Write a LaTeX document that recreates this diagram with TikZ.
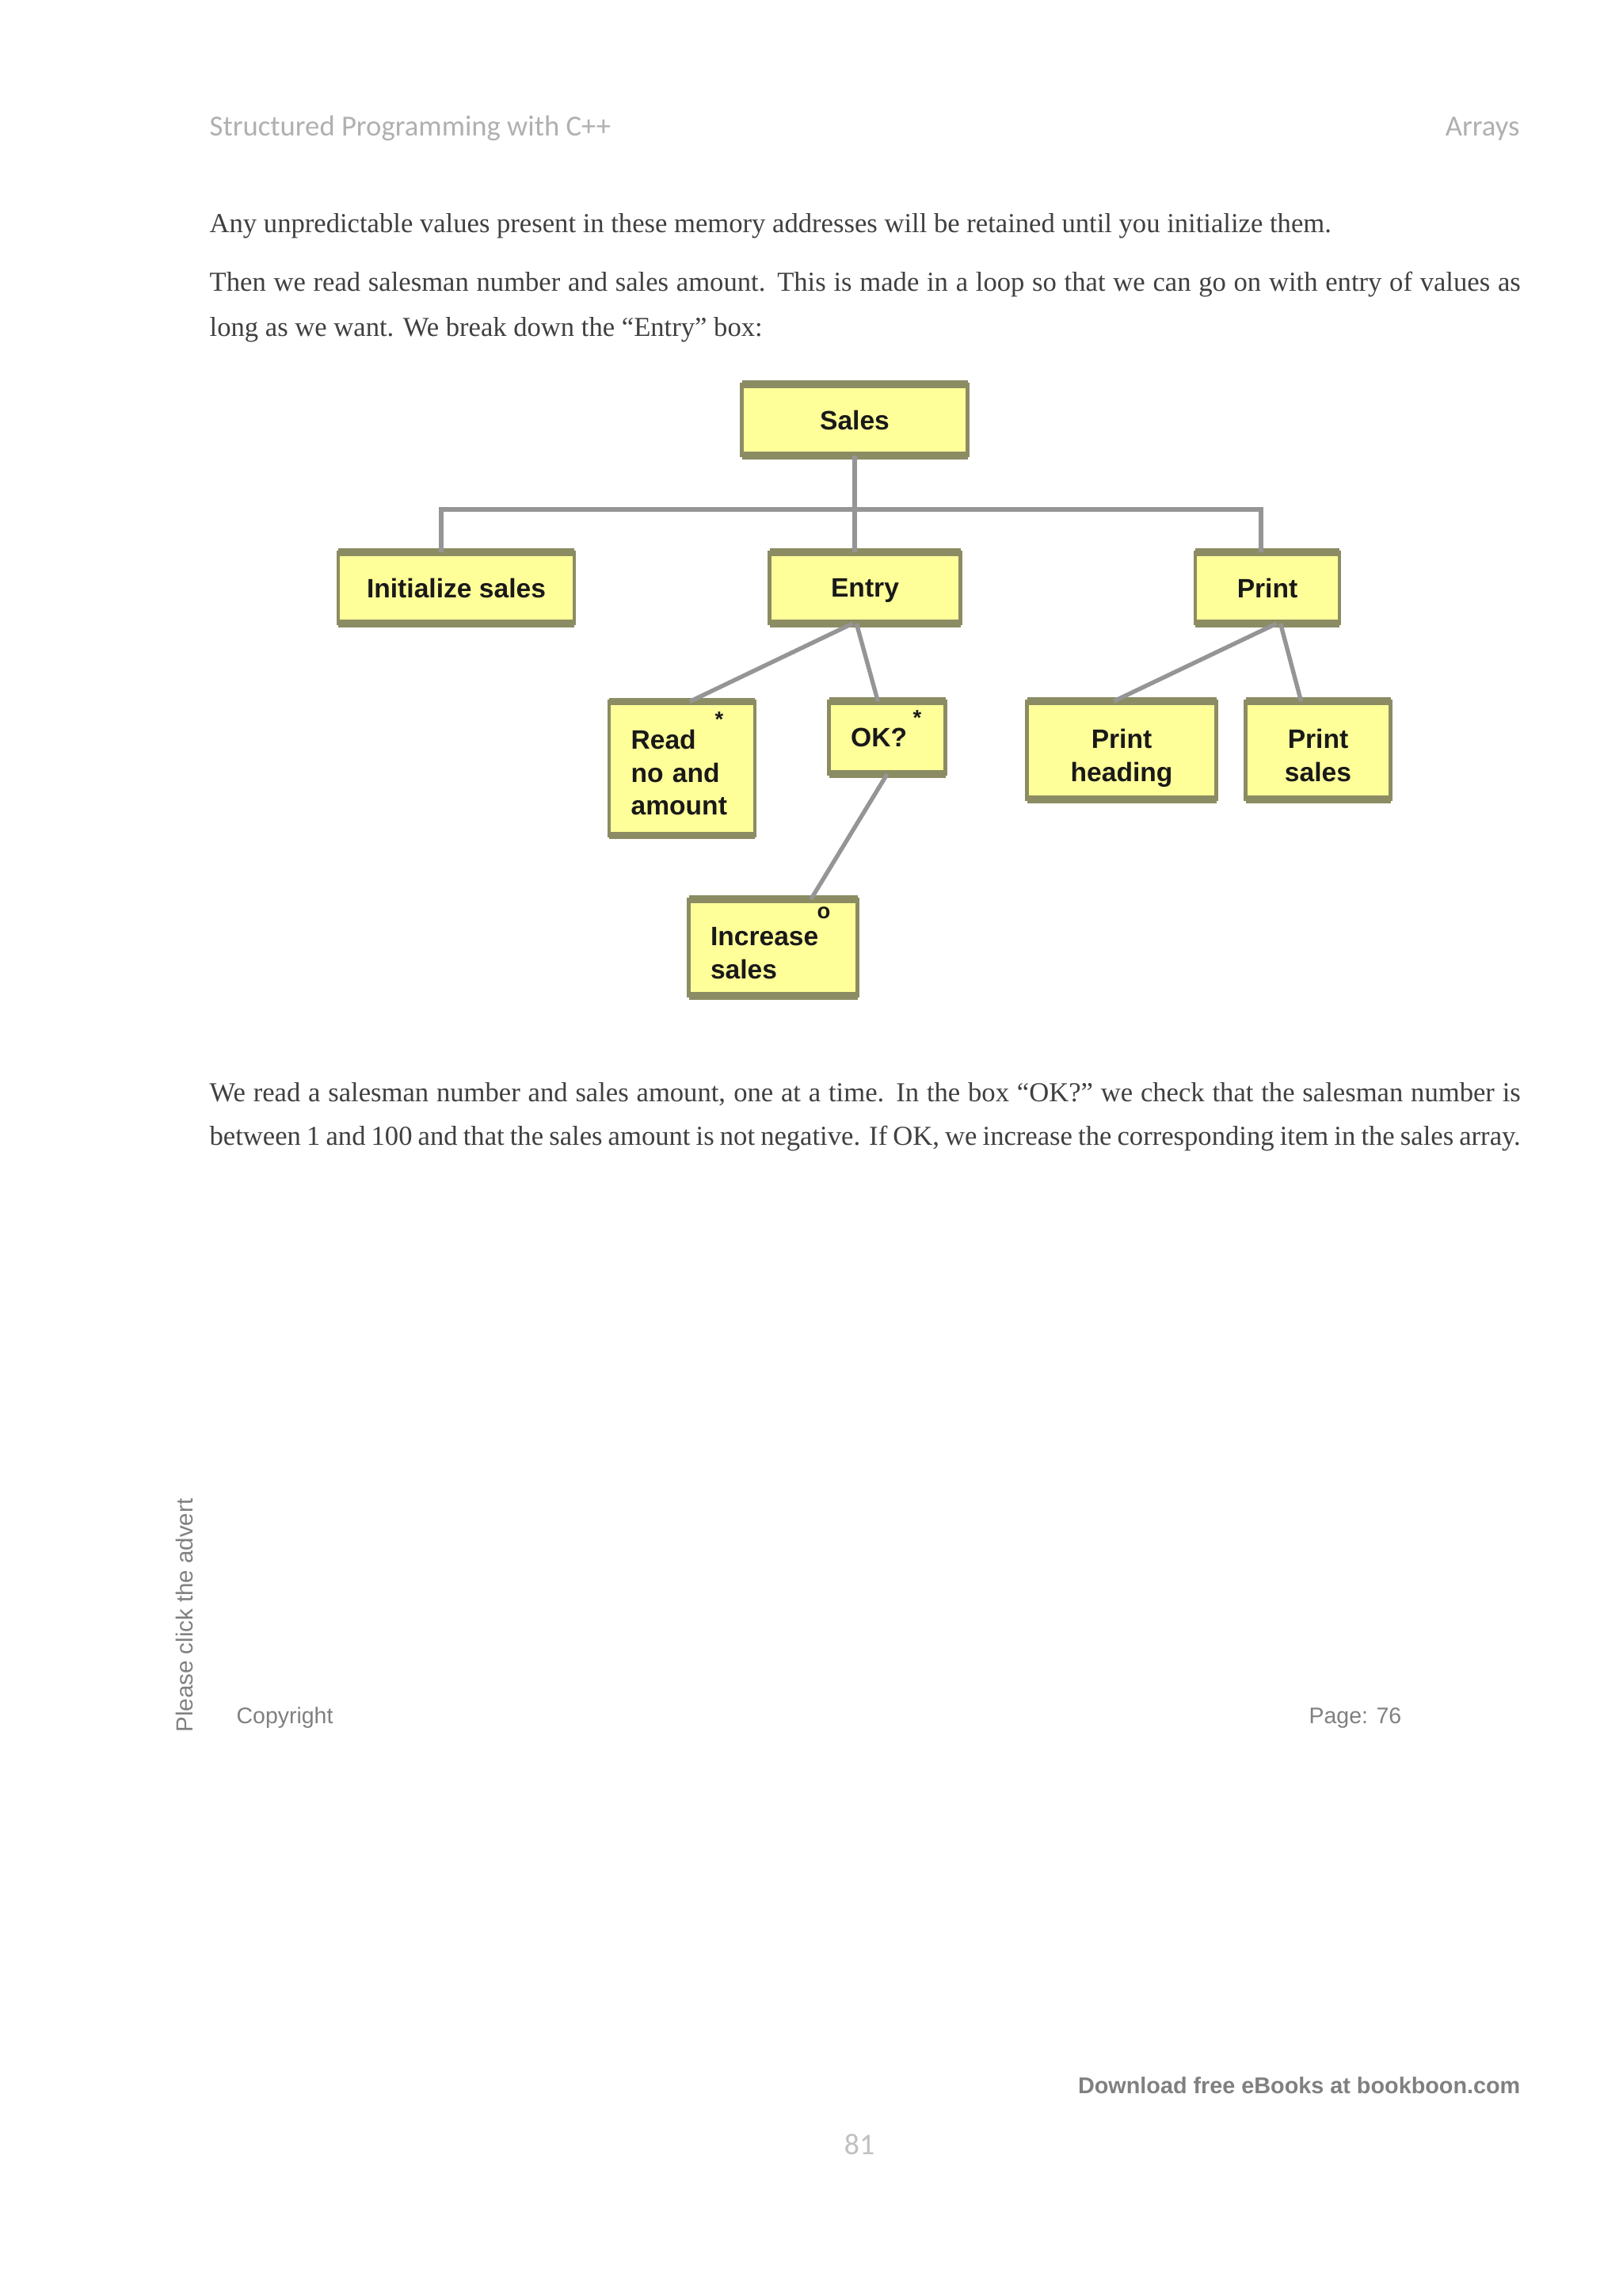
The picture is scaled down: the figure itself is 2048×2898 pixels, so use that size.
\documentclass[tikz,border=0pt]{standalone}
\usepackage{fontspec}
\setmainfont{Liberation Serif}
\setsansfont{Liberation Sans}
\newfontfamily\calibri{Carlito}

\definecolor{boxfill}{HTML}{FFFF99}
\definecolor{boxrim}{HTML}{8C8C64}
\definecolor{linkgray}{HTML}{959595}
\definecolor{bodytext}{HTML}{404040}
\definecolor{headgray}{HTML}{B0B0B0}
\definecolor{footgray}{HTML}{808080}

\tikzset{
  jbox/.style={draw=boxrim, fill=boxfill, line width=0.5mm, outer sep=0pt, inner sep=0pt,
    text depth=0pt, text=black!90, font=\sffamily\bfseries\fontsize{9.8}{12.2}\selectfont},
  bsize/.style 2 args={minimum width=#1*0.10254mm, minimum height=#2*0.10254mm},
  rim/.style={draw=boxrim, line width=1mm},
  link/.style={draw=linkgray, line width=0.55mm},
  boxmark/.style={inner sep=0pt, text=black!90, font=\sffamily\bfseries\fontsize{8}{9}\selectfont},
  body/.style={anchor=base west, inner sep=0pt, text=bodytext, font=\fontsize{10.1}{16}\selectfont},
  foot/.style={inner sep=0pt, text=footgray, font=\sffamily\fontsize{8.3}{10}\selectfont},
}

\begin{document}
\begin{tikzpicture}[x=0.10254mm,y=-0.10254mm]
\useasboundingbox (0,0) rectangle (2048,2898);
\fill[white] (0,0) rectangle (2048,2898);

% running head
\node[anchor=base west, inner sep=0pt, text=headgray, font=\calibri\fontsize{10.7}{12}\selectfont] (runhead) at (264,171) {Structured Programming with C++};
\node[anchor=base east, inner sep=0pt, text=headgray, font=\calibri\fontsize{10.7}{12}\selectfont] (chapter) at (1919,171) {Arrays};

% text above the chart
\node[body] (para1) at (264,293) {Any unpredictable values present in these memory addresses will be retained until you initialize them.};
\node[body] (para2a) at (264,367) {\makebox[169.7mm][s]{Then we read salesman number and sales amount. This is made in a loop so that we can go on with entry of values as}};
\node[body] (para2b) at (264,424) {long as we want. We break down the “Entry” box:};

% the chart
\node[jbox, bsize={285}{90}] (sales) at (1079,530) {Sales};
\node[jbox, bsize={298}{90}] (init) at (576,742) {Initialize sales};
\node[jbox, bsize={241}{90}] (entry) at (1092,742) {Entry};
\node[jbox, bsize={182}{90}] (print) at (1600,742) {Print};
\node[jbox, bsize={184}{169}, text width=13.2mm, align=left, text height=10pt, text depth=24.4pt] (read) at (861,970) {Read\\no and\\amount};
\node[jbox, bsize={147}{92}, text width=9.4mm, align=left] (okq) at (1120,931) {OK?};
\node[jbox, bsize={239}{124}, align=center, text height=23.2pt] (head) at (1416,947) {Print\\heading};
\node[jbox, bsize={183}{124}, align=center, text height=23.2pt] (psales) at (1664,947) {Print\\sales};
\node[jbox, bsize={213}{122}, text width=16.2mm, align=left, text height=10.9pt, text depth=12.2pt] (incr) at (976,1196) {Increase\\sales};

\foreach \b in {sales,init,entry,print,read,okq,head,psales,incr}
  \draw[rim] (\b.north west) -- (\b.north east) (\b.south west) -- (\b.south east);

\node[boxmark, anchor=north] (readstar) at (908,898) {*};
\node[boxmark, anchor=north] (okstar) at (1158,896) {*};
\node[boxmark] (incro) at (1040,1152) {o};

\coordinate (barl) at (557,643);
\coordinate (barr) at (1592,643);
\draw[link] (sales.south) -- (sales.south |- entry.north);
\draw[link] (barl |- init.north) -- (barl) -- (barr) -- (barr |- print.north);
\draw[link] ([xshift=-1.6mm]entry.south) -- ([xshift=1mm]read.north);
\draw[link] ([xshift=-1.1mm]entry.south) -- ([xshift=-1.2mm]okq.north);
\draw[link] (okq.south) -- ([xshift=4.9mm]incr.north);
\draw[link] ([xshift=1.2mm]print.south) -- ([xshift=-1mm]head.north);
\draw[link] ([xshift=1.7mm]print.south) -- ([xshift=-2.2mm]psales.north);

% text below the chart
\node[body] (para3a) at (264,1390) {\makebox[169.7mm][s]{We read a salesman number and sales amount, one at a time. In the box “OK?” we check that the salesman number is}};
\node[body] (para3b) at (264,1445) {\makebox[169.7mm][s]{between 1 and 100 and that the sales amount is not negative. If OK, we increase the corresponding item in the sales array.}};

% footer
\node[foot, rotate=90, font=\sffamily\fontsize{8.6}{10}\selectfont] (advert) at (233,2039) {Please click the advert};
\node[foot, anchor=west] (copyr) at (298,2168) {Copyright};
\node[foot, anchor=west] (pageno) at (1652,2168) {Page: 76};
\node[foot, anchor=east, font=\sffamily\bfseries\fontsize{8.4}{10}\selectfont] (bookboon) at (1920,2632) {Download free eBooks at bookboon.com};
\node[inner sep=0pt, text=headgray!80, font=\calibri\fontsize{11}{13}\selectfont] (folio) at (1085,2707) {81};
\end{tikzpicture}
\end{document}
